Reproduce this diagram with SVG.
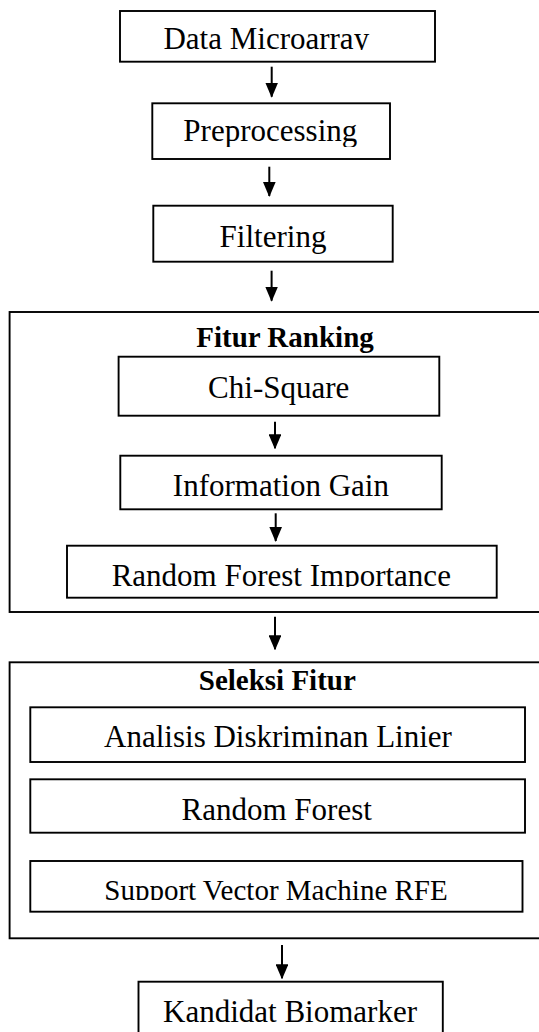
<svg xmlns="http://www.w3.org/2000/svg" width="539" height="1032" viewBox="0 0 539 1032">
<style>
.box{fill:#fff;stroke:#000;stroke-width:1.9}
.t{font-family:"Liberation Serif","Times New Roman",serif;font-size:31px;fill:#000;text-anchor:middle}
.b{font-weight:bold;font-size:29px}
.c{stroke:#000;stroke-width:2;fill:none}
</style>
<defs>
<marker id="ah" viewBox="0 0 15 12.7" refX="14" refY="6.35" markerWidth="15" markerHeight="12.7" markerUnits="userSpaceOnUse" orient="auto">
<path d="M0,0 L15,6.35 L0,12.7 Z" fill="#000"/>
</marker>
<clipPath id="c1"><rect x="0" y="0" width="539" height="50"/></clipPath>
<clipPath id="c2"><rect x="0" y="100" width="539" height="47"/></clipPath>
<clipPath id="c3"><rect x="0" y="550" width="539" height="37"/></clipPath>
<clipPath id="c4"><rect x="0" y="860" width="539" height="40"/></clipPath>
</defs>
<rect width="539" height="1032" fill="#fff"/>
<g id="fitur-ranking">
<rect class="box" x="9.6" y="312" width="540" height="300"/>
<text class="t b" x="285" y="347">Fitur Ranking</text>
</g>
<g id="seleksi-fitur">
<rect class="box" x="9.6" y="662.3" width="540" height="276"/>
<text class="t b" x="277.3" y="690">Seleksi Fitur</text>
</g>
<g id="data-microarray">
<rect class="box" x="120" y="11" width="315" height="50.7"/>
<text class="t" x="266.3" y="49.3" clip-path="url(#c1)">Data Microarray</text>
</g>
<g id="preprocessing">
<rect class="box" x="152.3" y="103.3" width="237.7" height="55.7"/>
<text class="t" x="270.3" y="141" clip-path="url(#c2)">Preprocessing</text>
</g>
<g id="filtering">
<rect class="box" x="153.3" y="205.7" width="239.4" height="56"/>
<text class="t" x="273" y="247.3">Filtering</text>
</g>
<g id="chi-square">
<rect class="box" x="118.6" y="356.7" width="320.7" height="59"/>
<text class="t" x="278.7" y="397.7">Chi-Square</text>
</g>
<g id="information-gain">
<rect class="box" x="120.3" y="455.7" width="321.4" height="53.6"/>
<text class="t" x="280.9" y="496">Information Gain</text>
</g>
<g id="random-forest-importance">
<rect class="box" x="67" y="545.7" width="429.7" height="52"/>
<text class="t" x="281.3" y="586.2" clip-path="url(#c3)">Random Forest Importance</text>
</g>
<g id="analisis-diskriminan-linier">
<rect class="box" x="30.3" y="707.3" width="494.7" height="54.7"/>
<text class="t" x="278" y="746.7">Analisis Diskriminan Linier</text>
</g>
<g id="random-forest">
<rect class="box" x="30.3" y="779.3" width="494.7" height="53.4"/>
<text class="t" x="276.7" y="820">Random Forest</text>
</g>
<g id="svm-rfe">
<rect class="box" x="30.3" y="861" width="492.2" height="50.7"/>
<text class="t" style="font-size:29px" x="276" y="899.5" clip-path="url(#c4)">Support Vector Machine RFE</text>
</g>
<g id="kandidat-biomarker">
<rect class="box" x="138.5" y="981.7" width="304.3" height="60"/>
<text class="t" x="290" y="1021.7">Kandidat Biomarker</text>
</g>
<g id="connectors">
<line class="c" x1="271.7" y1="66.7" x2="271.7" y2="96.7" marker-end="url(#ah)"/>
<line class="c" x1="269.3" y1="166.7" x2="269.3" y2="196" marker-end="url(#ah)"/>
<line class="c" x1="271.6" y1="270.7" x2="271.6" y2="300.7" marker-end="url(#ah)"/>
<line class="c" x1="275" y1="421.7" x2="275" y2="448.3" marker-end="url(#ah)"/>
<line class="c" x1="275.7" y1="513.3" x2="275.7" y2="541" marker-end="url(#ah)"/>
<line class="c" x1="275" y1="616.7" x2="275" y2="649.3" marker-end="url(#ah)"/>
<line class="c" x1="282" y1="945" x2="282" y2="978.3" marker-end="url(#ah)"/>
</g>
</svg>
